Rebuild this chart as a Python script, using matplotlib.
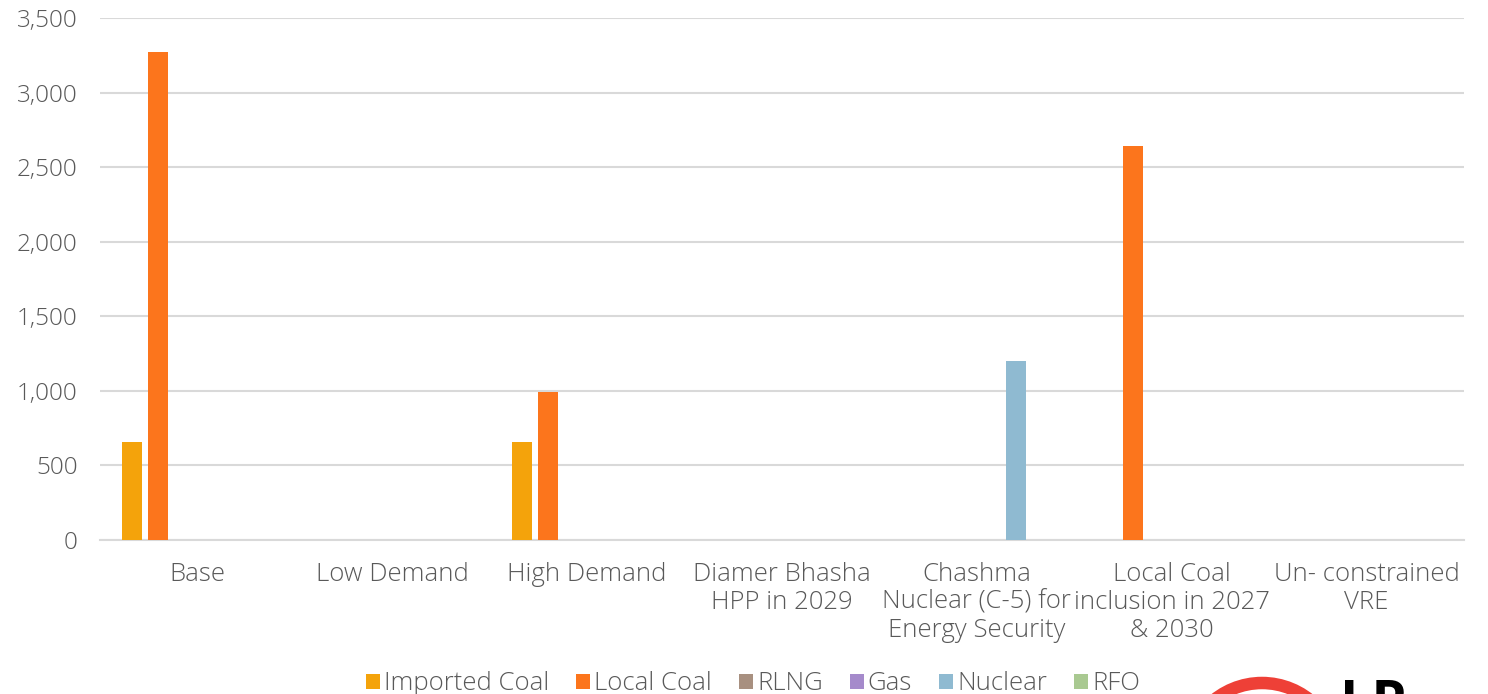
import matplotlib.pyplot as plt
from matplotlib.patches import Ellipse
import numpy as np

# Scenario categories and additions (MW) per fuel
categories = ['Base', 'Low Demand', 'High Demand', 'Diamer Bhasha\nHPP in 2029',
              'Chashma\nNuclear (C-5) for\nEnergy Security',
              'Local Coal\ninclusion in 2027\n& 2030', 'Un- constrained\nVRE']
fuels = ['Imported Coal', 'Local Coal', 'RLNG', 'Gas', 'Nuclear', 'RFO']
imported_coal = [660, 0, 660, 0, 0, 0, 0]
local_coal = [3270, 0, 990, 0, 0, 2640, 0]
rlng = [0, 0, 0, 0, 0, 0, 0]
gas = [0, 0, 0, 0, 0, 0, 0]
nuclear = [0, 0, 0, 0, 1200, 0, 0]
rfo = [0, 0, 0, 0, 0, 0, 0]
colors = ['#F4A30B', '#FC751C', '#A89080', '#A58ACB', '#8FBAD1', '#A9C991']

series = [imported_coal, local_coal, rlng, gas, nuclear, rfo]
grey = '#595959'
plt.rcParams['font.family'] = ['Open Sans', 'DejaVu Sans']
plt.rcParams['font.weight'] = 'light'

fig = plt.figure(figsize=(14.88, 6.94), dpi=100)
ax = fig.add_axes([100 / 1488, 154 / 694, 1364 / 1488, 522 / 694])

x = np.arange(len(categories))
pitch = 0.1334
width = 0.1026
for i, (name, vals) in enumerate(zip(fuels, series)):
    ax.bar(x + (i - 2.5) * pitch, vals, width=width, color=colors[i], label=name, zorder=3)

ax.set_xlim(-0.5, len(categories) - 0.5)
ax.set_ylim(0, 3500)
ax.set_yticks(range(0, 3501, 500))
ax.set_yticklabels([f'{v:,}' for v in range(0, 3501, 500)])
ax.grid(axis='y', color='#D9D9D9', linewidth=1.5, zorder=0)
for s in ['top', 'right', 'left']:
    ax.spines[s].set_visible(False)
ax.spines['bottom'].set_color('#D9D9D9')
ax.spines['bottom'].set_linewidth(1.5)
ax.set_xticks(x)
ax.set_xticklabels(categories, linespacing=1.14)
ax.tick_params(axis='both', length=0, labelcolor=grey)
ax.tick_params(axis='x', pad=16, labelsize=18.5)
ax.tick_params(axis='y', pad=16, labelsize=17.5)

fig.legend(loc='center', bbox_to_anchor=(0.506, 1 - 684 / 694), ncol=6, frameon=False,
           fontsize=18.5, labelcolor=grey, handlelength=0.55, handleheight=0.55,
           handletextpad=0.15, columnspacing=1.05)

# partial logo at the lower right corner
fig.patches.append(Ellipse((1262 / 1488, -65 / 694), 2 * 76 / 1488, 2 * 76 / 694,
                           transform=fig.transFigure, fill=False,
                           edgecolor='#EE4037', linewidth=9))
fig.text(1340 / 1488, -26 / 694, 'LP', fontsize=40, fontweight='bold', color='black',
         va='baseline', ha='left')

fig.savefig('out.png', dpi=100)
